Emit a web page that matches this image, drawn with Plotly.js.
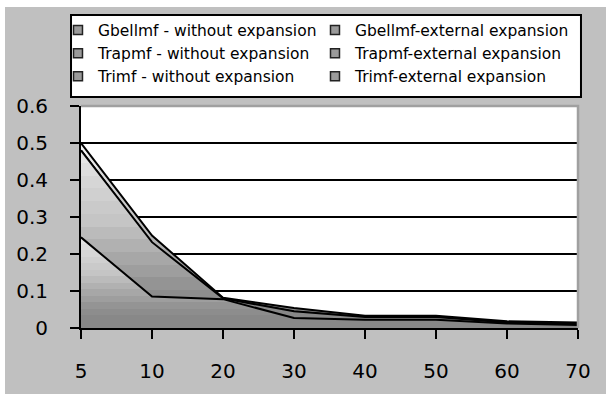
<!DOCTYPE html>
<html>
<head>
<meta charset="utf-8">
<script src="https://cdn.plot.ly/plotly-3.0.1.min.js"></script>
<style>
  html, body { margin: 0; padding: 0; background: #ffffff; }
  #chart { position: absolute; left: 5px; top: 7px; width: 601px; height: 387px; }
</style>
</head>
<body>
<div id="chart"></div>
<script>
// Category axis (evenly spaced, not numeric)
const categories = ['5', '10', '20', '30', '40', '50', '60', '70'];

// Series names, in legend order
const seriesNames = [
  'Gbellmf - without expansion',
  'Gbellmf-external expansion',
  'Trapmf - without expansion',
  'Trapmf-external expansion',
  'Trimf - without expansion',
  'Trimf-external expansion'
];

// Series values (overlapping area series, first drawn at the back)
const gbellWithout  = [0.500, 0.250, 0.082, 0.054, 0.033, 0.033, 0.018, 0.015];
const gbellExternal = [0.250, 0.088, 0.079, 0.030, 0.024, 0.023, 0.013, 0.009];
const trapWithout   = [0.480, 0.228, 0.080, 0.044, 0.029, 0.029, 0.014, 0.011];
const trapExternal  = [0.240, 0.086, 0.078, 0.028, 0.022, 0.022, 0.012, 0.008];
const triWithout    = [0.480, 0.232, 0.080, 0.045, 0.030, 0.030, 0.015, 0.012];
const triExternal   = [0.245, 0.085, 0.078, 0.027, 0.022, 0.022, 0.012, 0.008];

const seriesValues = [gbellWithout, gbellExternal, trapWithout, trapExternal, triWithout, triExternal];

const yTickVals = [0, 0.1, 0.2, 0.3, 0.4, 0.5, 0.6];
const yTickText = ['0', '0.1', '0.2', '0.3', '0.4', '0.5', '0.6'];

const FONT = 'DejaVu Sans, Verdana, sans-serif';

// Banded grey gradient, dark at the baseline and light at the series top
function bandedScale(topGrey) {
  const anchors = [[0, 136], [0.12, 136], [0.25, 148], [0.4, 168], [0.6, 196], [0.8, 212], [1, topGrey]];
  const grey = f => {
    for (let i = 1; i < anchors.length; i++) {
      if (f <= anchors[i][0]) {
        const [f0, g0] = anchors[i - 1], [f1, g1] = anchors[i];
        return Math.round(g0 + (g1 - g0) * (f - f0) / (f1 - f0));
      }
    }
    return topGrey;
  };
  const bands = 14, scale = [];
  for (let i = 0; i < bands; i++) {
    const g = grey((i + 0.5) / bands);
    const c = `rgb(${g},${g},${g})`;
    scale.push([i / bands, c], [(i + 1) / bands, c]);
  }
  return scale;
}

const traces = seriesValues.map((vals, i) => ({
  type: 'scatter',
  mode: 'lines',
  x: categories,
  y: vals,
  name: seriesNames[i],
  showlegend: false,
  fill: 'tozeroy',
  fillgradient: {
    type: 'vertical',
    start: 0,
    stop: Math.max(...vals),
    colorscale: bandedScale(i === 0 ? 250 : 232)
  },
  line: { color: '#000000', width: 2 },
  hoverinfo: 'skip'
}));

// Legend entries: small square swatches
seriesNames.forEach(name => traces.push({
  type: 'scatter',
  mode: 'markers',
  x: [null],
  y: [null],
  name: name,
  showlegend: true,
  marker: { symbol: 'square', size: 9, color: '#9a9a9a', line: { color: '#222222', width: 1.5 } }
}));

const layout = {
  width: 601,
  height: 387,
  margin: { l: 76, r: 28, t: 99, b: 66, pad: 0, autoexpand: false },
  paper_bgcolor: '#c0c0c0',
  plot_bgcolor: '#ffffff',
  font: { family: FONT, color: '#000000' },
  showlegend: true,
  legend: {
    orientation: 'h',
    x: -0.0463,
    xanchor: 'left',
    y: 1.417,
    yanchor: 'top',
    bgcolor: 'rgba(0,0,0,0)',
    borderwidth: 0,
    entrywidth: 212,
    traceorder: 'normal',
    font: { family: FONT, size: 15.5, color: '#000000' }
  },
  xaxis: {
    type: 'category',
    range: [0, 7],
    showgrid: false,
    zeroline: false,
    showline: true,
    linecolor: '#000000',
    linewidth: 2,
    ticks: 'outside',
    ticklen: 9,
    tickwidth: 2,
    tickcolor: '#000000',
    ticklabelstandoff: 15,
    tickfont: { family: FONT, size: 20, color: '#000000' },
    fixedrange: true
  },
  yaxis: {
    range: [0, 0.6],
    tickmode: 'array',
    tickvals: yTickVals,
    ticktext: yTickText,
    showgrid: true,
    gridcolor: '#000000',
    gridwidth: 1.5,
    zeroline: false,
    showline: true,
    linecolor: '#000000',
    linewidth: 2,
    ticks: 'outside',
    ticklen: 9,
    tickwidth: 2,
    tickcolor: '#000000',
    ticklabelstandoff: 18,
    tickfont: { family: FONT, size: 20, color: '#000000' },
    fixedrange: true
  },
  shapes: [
    {
      // plot-area frame on the top and right edges
      type: 'path',
      xref: 'paper',
      yref: 'paper',
      path: 'M0,1 L1,1 L1,0',
      layer: 'above',
      line: { color: '#a0a0a0', width: 2.5 }
    },
    {
      // legend box
      type: 'rect',
      xref: 'paper',
      yref: 'paper',
      x0: -0.0201, x1: 1.0060,
      y0: 1.0405, y1: 1.4099,
      layer: 'above',
      fillcolor: '#ffffff',
      line: { color: '#000000', width: 2 }
    }
  ]
};

Plotly.newPlot('chart', traces, layout, { displayModeBar: false, staticPlot: true });
</script>
</body>
</html>
